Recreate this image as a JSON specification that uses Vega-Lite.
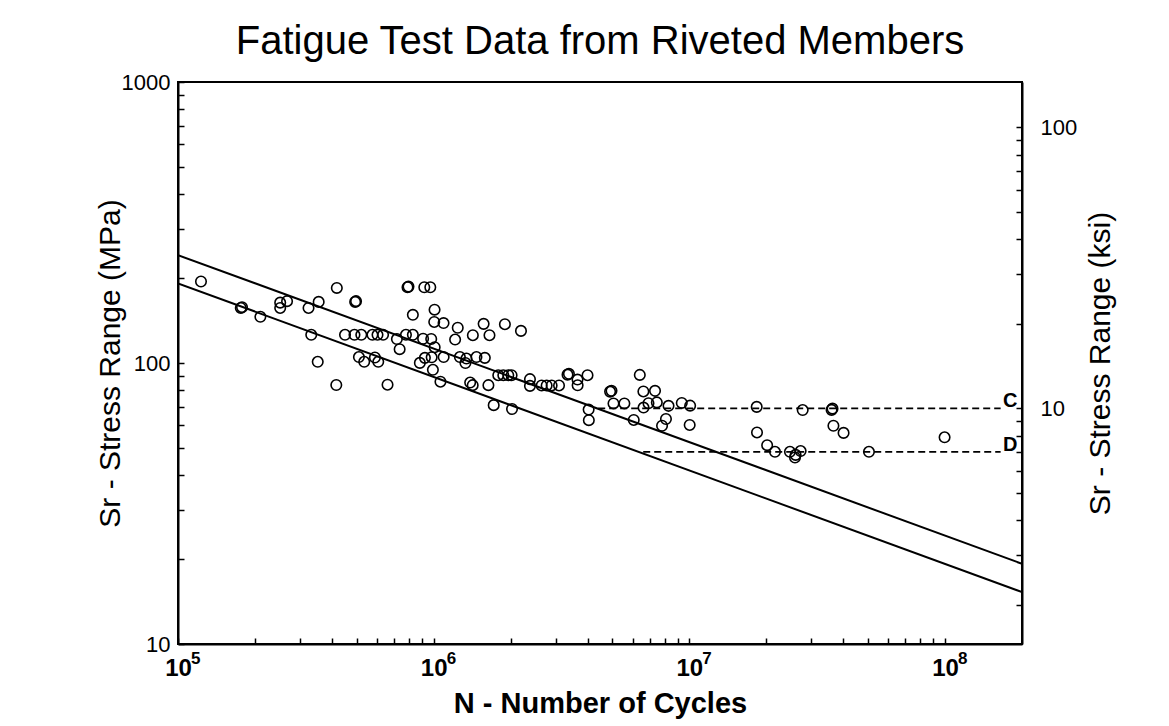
{
  "$schema": "https://vega.github.io/schema/vega-lite/v6.json",
  "autosize": {"type": "none"},
  "width": 844,
  "height": 562,
  "padding": {"left": 178, "top": 82, "right": 147, "bottom": 82},
  "background": "white",
  "title": {
    "text": "Fatigue Test Data from Riveted Members",
    "font": "Liberation Sans",
    "fontSize": 40,
    "fontWeight": "normal",
    "color": "black",
    "anchor": "middle",
    "offset": 9
  },
  "config": {
    "view": {"stroke": "black", "strokeWidth": 2},
    "font": "Liberation Sans",
    "axis": {
      "domainColor": "black",
      "domainWidth": 2,
      "tickColor": "black",
      "tickWidth": 1.5,
      "labelColor": "black",
      "titleColor": "black",
      "labelFont": "Liberation Sans",
      "titleFont": "Liberation Sans",
      "grid": false,
      "labelOverlap": false,
      "labelFlush": false
    }
  },
  "datasets": {
    "points": [
      {"N": 123000, "S": 195}, {"N": 176000, "S": 157}, {"N": 178000, "S": 158}, {"N": 210000, "S": 146},
      {"N": 251000, "S": 157}, {"N": 267000, "S": 166}, {"N": 251000, "S": 164}, {"N": 324000, "S": 157},
      {"N": 355000, "S": 165}, {"N": 418000, "S": 185}, {"N": 493000, "S": 165}, {"N": 497000, "S": 166},
      {"N": 332000, "S": 126}, {"N": 352000, "S": 101}, {"N": 416000, "S": 83.5}, {"N": 450000, "S": 126},
      {"N": 490000, "S": 126}, {"N": 521000, "S": 126}, {"N": 576000, "S": 126}, {"N": 603000, "S": 126},
      {"N": 634000, "S": 126}, {"N": 510000, "S": 105}, {"N": 535000, "S": 101}, {"N": 589000, "S": 104.6},
      {"N": 607000, "S": 101}, {"N": 660000, "S": 83.7}, {"N": 718000, "S": 121.7}, {"N": 736000, "S": 112},
      {"N": 779000, "S": 126}, {"N": 829000, "S": 126}, {"N": 790000, "S": 186}, {"N": 797000, "S": 187},
      {"N": 919000, "S": 186}, {"N": 970000, "S": 186}, {"N": 829000, "S": 148.4}, {"N": 1008000, "S": 154.8},
      {"N": 1005000, "S": 140}, {"N": 1093000, "S": 138.7}, {"N": 909000, "S": 122}, {"N": 978000, "S": 121.8},
      {"N": 883000, "S": 100.1}, {"N": 924000, "S": 104.3}, {"N": 982000, "S": 104.8}, {"N": 1009000, "S": 113.8},
      {"N": 1094000, "S": 105}, {"N": 993000, "S": 94.6}, {"N": 1063000, "S": 85.8}, {"N": 1242000, "S": 133.5},
      {"N": 1213000, "S": 121.2}, {"N": 1423000, "S": 125.6}, {"N": 1568000, "S": 137.8}, {"N": 1653000, "S": 125.6},
      {"N": 1899000, "S": 137.4}, {"N": 2195000, "S": 130.1}, {"N": 1266000, "S": 105}, {"N": 1343000, "S": 103.7},
      {"N": 1470000, "S": 105}, {"N": 1585000, "S": 104.3}, {"N": 1331000, "S": 100}, {"N": 1389000, "S": 85.2},
      {"N": 1421000, "S": 83.4}, {"N": 1637000, "S": 83.4}, {"N": 1789000, "S": 90.5}, {"N": 1872000, "S": 90.5},
      {"N": 1958000, "S": 90.5}, {"N": 2017000, "S": 90.5}, {"N": 1717000, "S": 70.8}, {"N": 2025000, "S": 68.6},
      {"N": 2380000, "S": 87.6}, {"N": 2380000, "S": 82.9}, {"N": 2644000, "S": 83.2}, {"N": 2766000, "S": 83.2},
      {"N": 2893000, "S": 83.2}, {"N": 3092000, "S": 83.2}, {"N": 3338000, "S": 90.9}, {"N": 3380000, "S": 91.5},
      {"N": 3652000, "S": 87.3}, {"N": 3656000, "S": 83.3}, {"N": 3997000, "S": 90.5}, {"N": 4037000, "S": 68.3},
      {"N": 4044000, "S": 62.6}, {"N": 4897000, "S": 79.1}, {"N": 4960000, "S": 79.6}, {"N": 5050000, "S": 71.8},
      {"N": 5570000, "S": 71.8}, {"N": 6060000, "S": 62.7}, {"N": 6400000, "S": 90.7}, {"N": 6610000, "S": 79.2},
      {"N": 7340000, "S": 79.6}, {"N": 6620000, "S": 69.4}, {"N": 6920000, "S": 71.9}, {"N": 7460000, "S": 72.4},
      {"N": 8290000, "S": 70.4}, {"N": 9340000, "S": 72.1}, {"N": 10070000, "S": 70.5}, {"N": 8100000, "S": 63.2},
      {"N": 7820000, "S": 59.8}, {"N": 10030000, "S": 60.2}, {"N": 18340000, "S": 69.8}, {"N": 27750000, "S": 68},
      {"N": 36000000, "S": 68.1}, {"N": 36300000, "S": 68.8}, {"N": 18390000, "S": 56.6}, {"N": 20150000, "S": 51},
      {"N": 21620000, "S": 48.3}, {"N": 24740000, "S": 48.3}, {"N": 26040000, "S": 47.1}, {"N": 25890000, "S": 46.1},
      {"N": 27240000, "S": 48.6}, {"N": 36600000, "S": 59.8}, {"N": 40100000, "S": 56.4}, {"N": 50400000, "S": 48.3},
      {"N": 99600000, "S": 54.4}
    ],
    "lines": [
      {"cat": "C", "N": 100000, "S": 242},
      {"cat": "C", "N": 200000000, "S": 19.3},
      {"cat": "D", "N": 100000, "S": 192},
      {"cat": "D", "N": 200000000, "S": 15.3}
    ],
    "exponents": [
      {"N": 100000, "S": 10, "e": "5"},
      {"N": 1000000, "S": 10, "e": "6"},
      {"N": 10000000, "S": 10, "e": "7"},
      {"N": 100000000, "S": 10, "e": "8"}
    ],
    "thresholds": [
      {"cat": "C", "N": 4400000, "K": 10},
      {"cat": "C", "N": 165000000, "K": 10},
      {"cat": "D", "N": 6600000, "K": 7},
      {"cat": "D", "N": 165000000, "K": 7}
    ],
    "labels": [
      {"cat": "C", "N": 180000000, "K": 10},
      {"cat": "D", "N": 180000000, "K": 7}
    ]
  },
  "layer": [
    {
      "encoding": {
        "x": {
          "field": "N",
          "type": "quantitative",
          "scale": {"type": "log", "domain": [100000, 200000000], "nice": false},
          "axis": {
            "orient": "bottom",
            "values": [100000, 200000, 300000, 400000, 500000, 600000, 700000, 800000, 900000,
                       1000000, 2000000, 3000000, 4000000, 5000000, 6000000, 7000000, 8000000, 9000000,
                       10000000, 20000000, 30000000, 40000000, 50000000, 60000000, 70000000, 80000000, 90000000,
                       100000000],
            "labelExpr": "datum.value == 100000 || datum.value == 1000000 || datum.value == 10000000 || datum.value == 100000000 ? '10' : ''",
            "tickSize": -6,
            "labelPadding": 18,
            "labelFontSize": 24,
            "labelFontWeight": "bold",
            "title": "N - Number of Cycles",
            "titleFontSize": 29,
            "titleFontWeight": "bold",
            "titlePadding": 9
          }
        },
        "y": {
          "field": "S",
          "type": "quantitative",
          "scale": {"type": "log", "domain": [10, 1000], "nice": false},
          "axis": {
            "orient": "left",
            "values": [10, 20, 30, 40, 50, 60, 70, 80, 90, 100, 200, 300, 400, 500, 600, 700, 800, 900, 1000],
            "labelExpr": "datum.value == 1000 ? '1000' : datum.value == 100 ? '100' : datum.value == 10 ? '10' : ''",
            "tickSize": -6,
            "labelPadding": 14,
            "labelFontSize": 22,
            "title": "Sr - Stress Range (MPa)",
            "titleFontSize": 30,
            "titleFontWeight": "normal",
            "titleX": -68,
            "titleY": 281,
            "titleBaseline": "middle",
            "titleAngle": -90,
            "titleAlign": "center"
          }
        }
      },
      "layer": [
        {
          "data": {"name": "lines"},
          "mark": {"type": "line", "color": "black", "strokeWidth": 2, "clip": true},
          "encoding": {"detail": {"field": "cat"}}
        },
        {
          "data": {"name": "points"},
          "mark": {"type": "point", "shape": "circle", "filled": false, "color": "black", "size": 110, "strokeWidth": 1.6, "opacity": 1}
        },
        {
          "data": {"name": "exponents"},
          "mark": {"type": "text", "color": "black", "font": "Liberation Sans", "fontSize": 17, "fontWeight": "bold", "align": "left", "baseline": "alphabetic", "dx": 13, "dy": 20},
          "encoding": {"text": {"field": "e", "type": "nominal"}}
        }
      ]
    },
    {
      "encoding": {
        "x": {
          "field": "N",
          "type": "quantitative",
          "scale": {"type": "log", "domain": [100000, 200000000], "nice": false},
          "axis": {
            "orient": "bottom",
            "values": [100000, 200000, 300000, 400000, 500000, 600000, 700000, 800000, 900000,
                       1000000, 2000000, 3000000, 4000000, 5000000, 6000000, 7000000, 8000000, 9000000,
                       10000000, 20000000, 30000000, 40000000, 50000000, 60000000, 70000000, 80000000, 90000000,
                       100000000],
            "labelExpr": "datum.value == 100000 || datum.value == 1000000 || datum.value == 10000000 || datum.value == 100000000 ? '10' : ''",
            "tickSize": -6,
            "labelPadding": 18,
            "labelFontSize": 24,
            "labelFontWeight": "bold",
            "title": "N - Number of Cycles",
            "titleFontSize": 29,
            "titleFontWeight": "bold",
            "titlePadding": 9
          }
        },
        "y": {
          "field": "K",
          "type": "quantitative",
          "scale": {"type": "log", "domain": [1.4504, 145.04], "nice": false},
          "axis": {
            "orient": "right",
            "values": [2, 3, 4, 5, 6, 7, 8, 9, 10, 20, 30, 40, 50, 60, 70, 80, 90, 100],
            "labelExpr": "datum.value == 100 ? '100' : datum.value == 10 ? '10' : ''",
            "tickSize": -6,
            "labelPadding": 24,
            "labelFontSize": 22,
            "title": "Sr - Stress Range (ksi)",
            "titleFontSize": 30,
            "titleFontWeight": "normal",
            "titleX": 78,
            "titleY": 281,
            "titleBaseline": "middle",
            "titleAngle": -90,
            "titleAlign": "center"
          }
        }
      },
      "layer": [
        {
          "data": {"name": "thresholds"},
          "mark": {"type": "line", "color": "black", "strokeWidth": 1.6, "strokeDash": [7, 4]},
          "encoding": {"detail": {"field": "cat"}}
        },
        {
          "data": {"name": "labels"},
          "mark": {"type": "text", "color": "black", "fontSize": 20, "fontWeight": "bold", "font": "Liberation Sans", "baseline": "alphabetic", "align": "center", "dy": -1},
          "encoding": {"text": {"field": "cat", "type": "nominal"}}
        }
      ]
    }
  ],
  "resolve": {"scale": {"y": "independent"}}
}
